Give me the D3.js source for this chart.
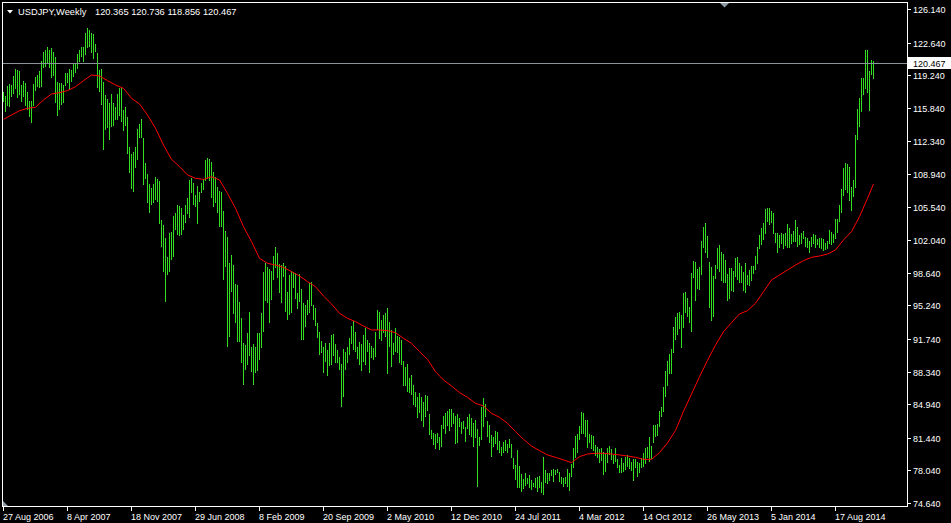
<!DOCTYPE html>
<html><head><meta charset="utf-8">
<script src="https://cdn.jsdelivr.net/npm/d3@7"></script>
<style>html,body{margin:0;padding:0;background:#000;overflow:hidden}</style>
</head><body><svg id="c" width="951" height="523"></svg>
<script>
const symbolTitle = "USDJPY,Weekly";
const lastOHLC = [120.365, 120.736, 118.856, 120.467];
const firstWeek = "27 Aug 2006";

const highs = [
117.52,117.07,118.11,118.32,118.22,119.16,119.85,119.78,119.68,118.22,
118.64,118.46,117.52,116.55,116.55,118.29,119.09,119.26,119.68,120.72,
121.69,121.87,122.15,121.87,122.04,121.66,121.17,118.53,118.46,118.39,
118.22,119.50,119.50,119.85,119.78,120.48,120.48,121.45,121.87,122.15,
122.15,123.60,124.13,123.95,123.60,123.50,122.50,121.59,119.78,119.85,
118.57,117.18,116.72,116.38,117.28,116.38,115.96,117.28,117.87,118.04,
115.60,115.89,114.92,111.79,111.03,111.27,111.79,113.60,114.15,114.64,
112.66,110.12,108.94,107.89,107.45,107.89,108.66,108.38,108.21,104.15,
103.62,102.23,100.32,102.76,102.93,104.56,104.84,105.71,105.60,105.36,
104.67,105.71,106.40,108.32,108.49,107.97,106.75,107.69,107.10,108.04,
108.38,110.40,110.57,110.47,110.23,109.18,108.66,107.62,107.20,107.10,
105.12,103.03,102.34,99.63,100.50,99.45,97.47,97.37,95.63,93.89,
91.36,91.11,92.40,94.59,90.94,91.22,90.87,92.33,92.40,94.48,
98.76,99.70,99.21,99.00,98.86,100.39,101.37,100.67,99.56,99.45,
99.70,99.35,96.67,98.41,98.86,98.76,98.65,96.50,98.52,96.92,
95.46,95.28,95.81,97.61,97.72,95.28,94.94,93.44,92.50,91.57,
90.94,91.36,90.59,91.29,92.16,92.26,91.22,90.59,89.90,89.13,
90.66,90.42,90.87,91.81,93.09,93.65,92.50,90.94,91.46,91.22,
92.16,92.85,91.63,91.29,91.01,90.77,92.50,94.76,94.59,93.72,
94.24,94.48,94.94,93.55,92.68,91.29,92.85,92.05,91.98,91.63,
89.48,88.79,89.13,87.64,87.99,86.94,86.25,85.66,86.08,85.66,
85.21,85.90,85.80,83.92,82.25,81.90,81.83,81.90,81.56,82.77,
83.71,84.06,84.27,84.41,84.41,84.06,83.71,83.92,83.47,83.12,
83.23,82.60,83.57,83.92,83.47,83.02,83.30,82.32,81.49,84.69,
85.55,84.96,83.23,82.77,81.73,81.56,82.18,82.08,81.14,80.52,
81.04,81.21,80.79,81.28,80.79,79.30,78.60,80.17,78.50,77.67,
77.11,77.74,77.21,77.56,77.04,76.76,77.21,77.32,77.46,76.87,
79.40,78.08,77.81,77.74,78.08,78.15,78.08,78.15,77.91,77.39,
77.21,77.32,78.15,77.74,78.71,80.34,81.63,81.84,82.67,84.16,
84.06,83.30,83.30,81.84,81.73,81.63,80.69,80.52,80.24,80.34,
79.99,79.82,80.34,80.58,80.24,79.65,80.34,79.19,78.60,79.30,
78.78,79.47,79.65,79.30,78.95,79.19,79.19,78.95,78.78,79.30,
79.82,80.34,80.52,81.49,80.58,82.77,82.77,82.88,84.27,84.62,
86.70,88.40,89.40,90.20,90.70,92.96,94.05,94.41,94.59,94.24,
96.50,96.67,95.98,95.11,98.59,99.91,99.80,99.00,99.28,101.99,
103.38,103.80,102.48,99.80,99.28,98.31,99.45,101.19,101.54,100.84,
100.60,99.98,98.52,99.11,99.11,98.86,100.15,100.25,99.70,99.35,
98.76,99.70,98.41,98.93,99.35,99.35,100.39,101.30,102.58,103.28,
103.87,105.26,105.36,105.36,105.12,104.84,102.83,102.76,102.58,102.76,
102.69,102.83,103.73,103.28,102.69,103.03,104.15,103.38,102.58,102.76,
103.03,102.34,102.23,101.99,102.34,102.69,102.58,102.13,102.23,102.23,
102.13,101.78,101.99,103.10,102.93,102.69,104.21,104.21,105.71,107.34,
109.53,110.05,109.98,109.64,107.62,108.32,113.01,115.68,116.90,118.98,
118.98,121.87,121.87,119.68,120.83,120.736
];

const lows = [
116.48,115.44,116.03,115.96,117.00,117.28,117.77,116.83,117.18,116.48,
117.00,116.03,115.61,114.85,114.29,116.03,117.63,117.97,117.87,118.05,
120.03,120.13,120.55,119.96,118.91,119.16,116.31,114.99,115.61,116.13,
116.38,118.11,118.39,117.70,118.57,119.09,119.44,119.85,120.65,121.10,
120.65,121.35,122.04,122.22,121.60,120.90,121.70,117.87,117.52,116.13,
111.44,113.53,113.70,112.49,113.87,113.94,114.57,114.57,114.99,114.40,
113.40,113.94,111.00,109.08,107.34,107.10,109.53,110.40,112.66,112.66,
107.79,108.39,105.88,104.91,105.71,105.88,106.23,106.06,103.73,101.37,
98.76,95.63,98.41,98.76,99.98,100.25,103.10,102.58,102.48,102.58,
103.10,103.80,104.77,104.32,106.99,105.71,105.54,103.73,106.06,106.99,
107.27,108.25,108.38,108.25,106.40,105.47,105.95,104.84,103.45,103.45,
97.89,99.21,90.87,91.91,96.67,94.35,93.44,91.46,91.46,89.27,
86.94,88.51,89.03,89.97,88.33,86.94,88.16,88.44,89.55,90.77,
92.50,95.74,95.46,93.44,95.81,97.89,99.11,98.06,96.50,95.53,
98.24,94.59,93.72,94.24,94.42,97.02,95.88,94.83,95.63,91.63,
91.63,93.02,94.24,94.42,95.18,93.72,93.09,91.81,90.07,90.24,
88.23,89.38,87.88,88.92,89.03,89.97,89.27,89.20,88.51,84.69,
85.73,88.51,89.20,90.07,91.22,90.59,90.42,89.62,89.03,88.44,
89.38,89.03,90.42,88.16,89.72,89.55,89.90,92.68,91.70,91.57,
92.33,91.98,88.09,90.94,88.86,90.07,90.42,90.24,89.20,89.03,
86.84,86.84,86.25,86.14,85.90,84.86,84.69,83.47,83.99,83.23,
82.53,83.64,84.27,81.73,81.28,80.69,80.24,80.86,80.17,80.45,
82.32,81.83,82.67,82.18,82.60,82.88,80.79,80.93,82.53,81.83,
82.32,81.04,82.32,81.73,81.49,80.52,81.38,76.28,80.58,81.21,
82.60,83.64,81.49,80.93,79.47,80.45,80.79,80.17,79.89,79.54,
79.82,80.10,79.82,80.34,79.30,78.15,77.04,76.17,76.17,75.82,
76.07,76.42,76.62,76.17,75.99,76.28,76.17,75.82,76.17,75.72,
75.48,76.69,76.62,76.97,77.46,76.87,77.56,77.74,76.87,76.62,
76.28,76.62,76.35,75.93,77.32,78.26,79.30,79.89,81.21,81.84,
81.84,81.56,80.34,80.86,80.24,80.10,79.54,79.30,78.85,79.06,
77.56,77.91,78.78,79.65,79.13,78.71,78.95,78.26,77.81,77.81,
77.91,78.08,78.36,78.15,78.01,76.97,78.26,77.32,77.81,78.26,
78.43,78.71,79.30,78.95,79.19,80.86,81.56,81.63,82.60,83.57,
84.16,85.70,86.80,88.10,88.10,90.30,91.60,92.16,92.75,90.85,
92.85,94.48,93.99,93.44,92.50,98.06,95.74,96.92,96.85,98.41,
101.19,100.67,100.15,94.94,93.65,94.07,97.96,99.00,98.76,97.82,
97.61,97.54,95.74,95.88,96.78,96.67,98.17,97.89,97.61,97.61,
96.78,96.50,97.37,97.26,97.82,98.52,98.93,99.56,101.09,101.54,
102.06,102.69,103.97,103.62,103.80,102.69,101.71,100.67,101.19,101.64,
101.09,101.43,101.19,101.19,101.64,101.89,101.89,101.30,101.54,101.64,
102.13,101.30,101.19,100.74,101.30,101.64,101.19,101.54,101.19,101.09,
100.95,101.02,101.09,101.64,101.54,101.78,102.13,102.76,103.97,104.91,
106.65,107.27,107.00,106.16,105.12,106.50,107.52,112.49,113.81,115.44,
117.18,117.77,117.42,115.54,119.26,118.856
];

// moving average, one reading every 4 weeks (last one = last bar)
const maStepWeeks = 4;
const maValues = [
114.64,115.09,115.54,115.79,115.89,116.66,117.28,117.42,117.63,118.04,
118.67,119.26,119.16,118.67,118.22,117.87,116.83,116.24,115.09,113.70,
111.96,110.47,109.71,108.84,108.49,108.38,108.66,108.32,106.92,105.36,
103.45,101.89,100.15,99.63,99.45,99.21,98.76,98.31,97.72,97.19,
96.22,95.39,94.42,93.89,93.55,93.09,92.68,92.68,92.61,92.40,
91.81,91.29,90.42,89.62,88.33,87.46,86.84,86.15,85.66,85.03,
84.76,83.99,83.57,82.95,82.08,81.28,80.58,80.10,79.65,79.40,
79.13,78.85,79.47,79.75,79.82,79.82,79.75,79.65,79.54,79.40,
79.19,79.19,79.89,80.90,82.20,84.20,86.00,87.80,89.50,91.10,
92.50,93.44,94.35,94.69,95.46,96.67,97.89,98.41,98.93,99.45,
99.91,100.25,100.39,100.60,101.02,102.06,102.93,104.49,106.40,107.90
];

const priceTicks = [126.14,122.64,119.24,115.84,112.34,108.94,105.54,102.04,98.64,95.24,91.74,88.34,84.94,81.44,78.04,74.64];
const dateTicks = ["27 Aug 2006","8 Apr 2007","18 Nov 2007","29 Jun 2008","8 Feb 2009","20 Sep 2009","2 May 2010","12 Dec 2010","24 Jul 2011","4 Mar 2012","14 Oct 2012","26 May 2013","5 Jan 2014","17 Aug 2014"];

const FONT = "'Liberation Sans', Arial, sans-serif";
const parse = d3.utcParse("%d %b %Y");
const start = parse(firstWeek);
const n = highs.length;
const weekDate = i => d3.utcDay.offset(start, 7 * i);

const svg = d3.select("#c");
svg.append("rect").attr("width", 951).attr("height", 523).attr("fill", "#000");

const x = d3.scaleUtc().domain([start, weekDate(n - 1)]).range([3, 873]);
const y = d3.scaleLinear().domain([74.64, 126.14]).range([503, 9]);

const bars = d3.range(n).map(i => ({d: weekDate(i), h: highs[i], l: lows[i]}));

const plot = svg.append("g").attr("shape-rendering", "crispEdges");
plot.selectAll("rect.bar").data(bars).join("rect")
  .attr("class", "bar")
  .attr("x", d => Math.round(x(d.d)))
  .attr("width", 1)
  .attr("y", d => Math.round(y(d.h)))
  .attr("height", d => Math.max(1, Math.round(y(d.l)) - Math.round(y(d.h))))
  .attr("fill", "#33dd22");

// moving average
const maPts = maValues.map((v, k) => ({d: weekDate(Math.min(k * maStepWeeks, n - 1)), v}));
const line = d3.line().x(p => Math.round(x(p.d)) + 0.5).y(p => y(p.v));
svg.append("path").attr("d", line(maPts)).attr("fill", "none")
  .attr("stroke", "#ff0000").attr("stroke-width", 1);

// current price line
const cy = Math.round(y(lastOHLC[3])) + 0.5;
plot.append("line").attr("x1", 3).attr("x2", 907).attr("y1", cy).attr("y2", cy)
  .attr("stroke", "#8a949c").attr("stroke-width", 1);

// frame
plot.append("path").attr("d", "M2.5,2.5H907.5V506.5H2.5Z").attr("fill", "none")
  .attr("stroke", "#fff").attr("stroke-width", 1);

// right axis
const ra = svg.append("g");
priceTicks.forEach(v => {
  const yy = Math.round(y(v)) + 0.5;
  ra.append("line").attr("x1", 908).attr("x2", 911).attr("y1", yy).attr("y2", yy)
    .attr("stroke", "#fff").attr("shape-rendering", "crispEdges");
  ra.append("text").attr("x", 913).attr("y", yy + 3.3).text(d3.format(".3f")(v))
    .attr("fill", "#fff").attr("font-family", FONT).attr("font-size", 9);
});
// current price label
ra.append("rect").attr("x", 908).attr("y", cy - 6.5).attr("width", 43).attr("height", 12).attr("fill", "#fff");
ra.append("text").attr("x", 913).attr("y", cy + 3.3).text(d3.format(".3f")(lastOHLC[3]))
  .attr("fill", "#000").attr("font-family", FONT).attr("font-size", 9);

// bottom axis
const ba = svg.append("g");
dateTicks.forEach(s => {
  const xx = Math.round(x(parse(s))) + 0.5;
  ba.append("line").attr("x1", xx).attr("x2", xx).attr("y1", 507).attr("y2", 511)
    .attr("stroke", "#fff").attr("shape-rendering", "crispEdges");
  ba.append("text").attr("x", xx - 0.5).attr("y", 519.5).text(s)
    .attr("fill", "#fff").attr("font-family", FONT).attr("font-size", 9);
});

// title
svg.append("polygon").attr("points", "7,10 13,10 10,13.5").attr("fill", "#fff");
svg.append("text").attr("x", 18).attr("y", 15).text(symbolTitle)
  .attr("fill", "#fff").attr("font-family", FONT).attr("font-size", 9.3);
svg.append("text").attr("x", 95).attr("y", 15).text(lastOHLC.map(d3.format(".3f")).join(" "))
  .attr("fill", "#fff").attr("font-family", FONT).attr("font-size", 9.3);

// markers
svg.append("polygon").attr("points", "720,3 729,3 724.5,7.5").attr("fill", "#8e9aa4");
svg.append("polygon").attr("points", "3,501 3,506 8,506").attr("fill", "#8e9aa4");
</script></body></html>
